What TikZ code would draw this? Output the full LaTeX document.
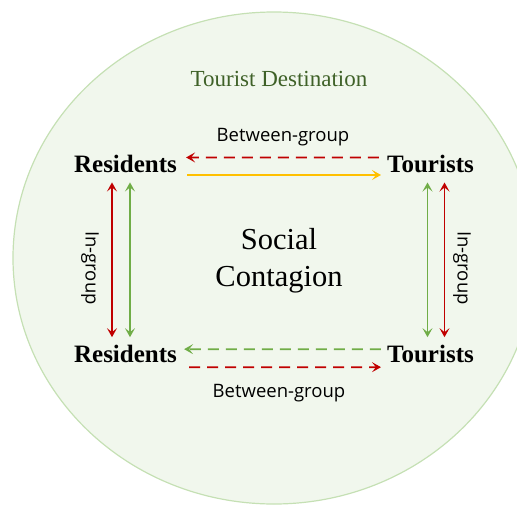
\documentclass[tikz,border=0pt]{standalone}
\usepackage{fontspec}
\setmainfont{Liberation Serif}
\newfontfamily\labelsans{Open Sans}
\usetikzlibrary{arrows.meta,calc}
\definecolor{areafill}{HTML}{F1F7ED}
\definecolor{arealine}{HTML}{C5E0B4}
\definecolor{titlegreen}{HTML}{3F6128}
\definecolor{flowred}{HTML}{C00000}
\definecolor{flowgreen}{HTML}{70AD47}
\definecolor{flowyellow}{HTML}{FFC000}
\begin{document}
\begin{tikzpicture}[x=1pt,y=-1pt,
  group/.style={font=\fontsize{25}{30}\selectfont\bfseries, inner sep=0pt},
  flowlabel/.style={font=\labelsans\fontsize{18.5}{22}\selectfont, inner sep=0pt},
  flow/.style={line width=1.8pt, -{Stealth[length=9pt,width=10pt,inset=4pt]}},
  twoway/.style={line width=1.8pt, {Stealth[length=9pt,width=10pt,inset=4pt]}-{Stealth[length=9pt,width=10pt,inset=4pt]}},
  dashedflow/.style={dash pattern=on 11pt off 7pt}]
\useasboundingbox (0,0) rectangle (517,504);

% the destination area
\begin{scope}
  \clip (0,0) rectangle (517,504);
  \draw[fill=areafill, draw=arealine, line width=1.2pt]
    (274,258) ellipse [x radius=261pt, y radius=246pt];
\end{scope}

\node[anchor=base, inner sep=0pt, text=titlegreen, font=\fontsize{23}{27}\selectfont]
  (dest) at (279,86) {Tourist Destination};

% the four groups
\node[group, anchor=base] (r1) at (125.5,172.5) {Residents};
\node[group, anchor=base] (t1) at (430.5,172.5) {Tourists};
\node[group, anchor=base] (r2) at (125.5,362.7) {Residents};
\node[group, anchor=base] (t2) at (430.5,362.7) {Tourists};

\node[inner sep=0pt, font=\fontsize{30.5}{37}\selectfont, align=center]
  (sc) at (279,260.5) {Social\\Contagion};

% labels
\node[flowlabel, anchor=base] (bg1) at (283,141) {Between-group};
\node[flowlabel, anchor=base] (bg2) at (279,397) {Between-group};
\node[flowlabel, rotate=-90] (ig1) at (90,268) {In-group};
\node[flowlabel, rotate=-90] (ig2) at (462,268) {In-group};

% between-group flows
\draw[flow, dashedflow, flowred]
  ($(t1.west)+(-8,-6.5)$) -- ($(r1.east)+(9,-6.5)$);
\draw[flow, flowyellow]
  ($(r1.east)+(10,11)$) -- ($(t1.west)+(-6,11)$);
\draw[flow, dashedflow, flowgreen]
  ($(t2.west)+(-6,-5)$) -- ($(r2.east)+(7,-5)$);
\draw[flow, dashedflow, flowred]
  ($(r2.east)+(12,13)$) -- ($(t2.west)+(-6,13)$);

% in-group flows
\draw[twoway, flowred]
  ($(r1.south)+(-13.5,9.5)$) -- ($(r2.north)+(-13.5,-8)$);
\draw[twoway, flowgreen]
  ($(r1.south)+(4.5,9.5)$) -- ($(r2.north)+(4.5,-8)$);
\draw[twoway, flowgreen]
  ($(t1.south)+(-3,9.5)$) -- ($(t2.north)+(-3,-8)$);
\draw[twoway, flowred]
  ($(t1.south)+(14,9.5)$) -- ($(t2.north)+(14,-8)$);
\end{tikzpicture}
\end{document}
